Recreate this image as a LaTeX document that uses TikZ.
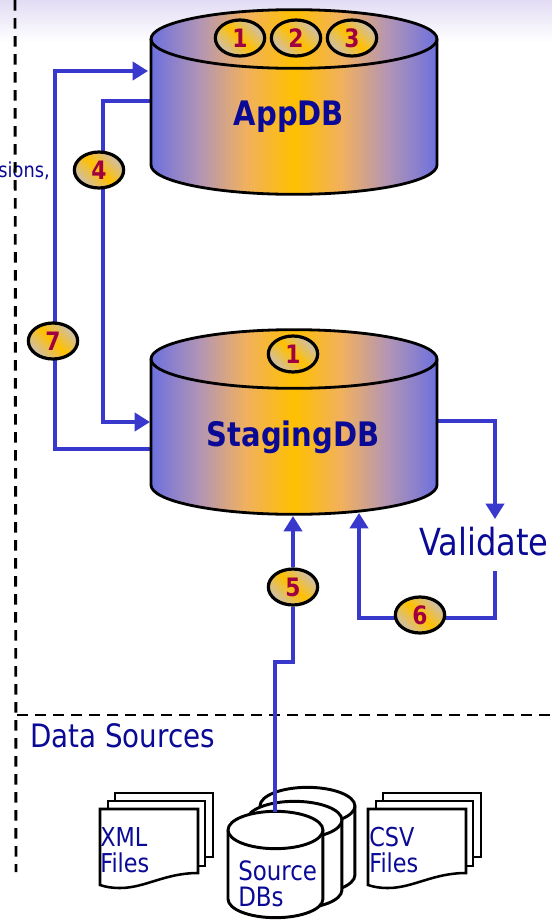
\documentclass[tikz,border=0pt]{standalone}
\usepackage{fontspec}
\setmainfont[FakeStretch=0.86]{DejaVu Sans}
\usetikzlibrary{arrows.meta,shapes.geometric}
\definecolor{inkblue}{HTML}{0A0A96}
\definecolor{flowblue}{HTML}{3838CC}
\definecolor{cylblue}{HTML}{6C70DE}
\definecolor{cylorange}{HTML}{FFC000}
\definecolor{cylmauve}{HTML}{B295B5}
\definecolor{cylpeach}{HTML}{F0B060}
\definecolor{badgegrey}{HTML}{CDBFB0}
\definecolor{numred}{HTML}{A00040}
\definecolor{lav}{HTML}{E2DCF4}
\pgfdeclarehorizontalshading{cylgrad}{100bp}{
  color(0bp)=(cylblue);
  color(25bp)=(cylblue);
  color(33.5bp)=(cylmauve);
  color(41.5bp)=(cylpeach);
  color(50bp)=(cylorange);
  color(58.5bp)=(cylpeach);
  color(66.5bp)=(cylmauve);
  color(75bp)=(cylblue);
  color(100bp)=(cylblue)}
\pgfdeclarelayer{back}
\pgfdeclarelayer{conn}
\pgfsetlayers{back,conn,main}
\tikzset{
  cylshade/.style={shading=cylgrad},
  cylline/.style={draw=black,line width=2.1pt},
  badge/.style={ellipse,draw=black,line width=2.4pt,minimum width=37pt,minimum height=27pt,inner sep=0pt,
    left color=badgegrey,right color=badgegrey,middle color=cylorange,shading angle=-45,
    text=numred,font=\fontsize{19}{19}\selectfont\bfseries},
  flow/.style={draw=flowblue,line width=3pt},
  flowarrow/.style={flow,-{Triangle[length=11.5pt,width=13.5pt]}},
  divider/.style={draw=black,line width=2.2pt,dash pattern=on 8pt off 5.5pt},
  dblabel/.style={text=inkblue,font=\fontsize{25.3}{25.3}\selectfont\bfseries,inner sep=0pt},
  lbl/.style={text=inkblue,inner sep=0pt},
  small/.style={lbl,align=left},
  sheet/.style={draw=black,line width=1.9pt,fill=white},
  srcdb/.style={draw=black,line width=2.2pt,fill=white}
}
\newcommand{\bigcyl}[2]{%
  \shade[cylshade] (#1,#2) -- (#1,#2+126) arc[start angle=180,end angle=360,x radius=107.25pt,y radius=22pt]
     -- (#1+286,#2) arc[start angle=0,end angle=180,x radius=107.25pt,y radius=22pt] -- cycle;
  \draw[cylline] (#1,#2) -- (#1,#2+126) arc[start angle=180,end angle=360,x radius=107.25pt,y radius=22pt]
     -- (#1+286,#2) arc[start angle=0,end angle=180,x radius=107.25pt,y radius=22pt] -- cycle;
  \draw[cylline] (#1,#2) arc[start angle=180,end angle=360,x radius=107.25pt,y radius=22pt];
}
\newcommand{\smallcyl}[4]{%
  \draw[srcdb] (#1,#3) -- (#1,#3+#4) arc[start angle=180,end angle=360,x radius=#2pt,y radius=14pt]
     -- ++(0,-#4) arc[start angle=0,end angle=180,x radius=#2pt,y radius=14pt] -- cycle;
  \draw[srcdb] (#1,#3) arc[start angle=180,end angle=360,x radius=#2pt,y radius=14pt];
}
\newcommand{\filestack}[1]{%
  \begin{scope}[shift={(#1,0)}]
    \draw[sheet] (15,793) rectangle (113,857);
    \draw[sheet] (8,801) rectangle (105,866);
    \draw[sheet] (0,809) -- (98,809) -- (98,873) .. controls (65,873) and (45,888) .. (20,888) .. controls (12,888) and (6,887) .. (0,885) -- cycle;
  \end{scope}
}
\begin{document}
\begin{tikzpicture}[x=.75pt,y=-.75pt]
\useasboundingbox (0,0) rectangle (552,921);
\clip (0,0) rectangle (552,921);
\begin{pgfonlayer}{back}
\fill[white] (0,0) rectangle (552,921);
\shade[top color=lav,bottom color=white] (0,0) rectangle (552,42);
\end{pgfonlayer}

% cylinders
\bigcyl{151}{39}
\bigcyl{151}{359}
\node[dblabel] (appdb) at (289,117) {AppDB};
\node[dblabel] (stagingdb) at (293,437) {StagingDB};

% badges
\node[badge] (a1) at (240,38) {1};
\node[badge] (a2) at (296,38) {2};
\node[badge] (a3) at (352,38) {3};
\node[badge] (s1) at (293,354) {1};
\node[badge] (b4) at (99,170) {4};
\node[badge] (b7) at (53,341) {7};
\node[badge] (b5) at (293,587) {5};
\node[badge] (b6) at (420,615) {6};

% text
\node[lbl,anchor=base,font=\fontsize{28}{28}\selectfont] (validate) at (484,555) {Validate};
\node[lbl,anchor=base west,font=\fontsize{24.2}{24.2}\selectfont] (datasrc) at (30,747) {Data Sources};
\node[lbl,anchor=base east,font=\fontsize{15.5}{15.5}\selectfont] (sions) at (50,177) {sions,};

% dividers
\draw[divider] (15,0) -- (16,872);
\draw[divider] (17,715) -- (552,715);

% files and source databases
\filestack{100}
\filestack{368}
\smallcyl{260}{35.6}{806}{69}
\smallcyl{247}{35.6}{820}{70}
\smallcyl{228}{35.6}{830}{69}
\node[small,anchor=base west,text width=60pt,font=\fontsize{19.5}{19.5}\selectfont] (xml) at (100,846) {XML\\Files};
\node[small,anchor=base west,text width=60pt,font=\fontsize{19.5}{19.5}\selectfont] (csv) at (369,846) {CSV\\Files};
\node[small,anchor=base west,text width=70pt,font=\fontsize{20}{19.5}\selectfont] (source) at (238,880) {Source\\DBs};

% connector ports and corners
\coordinate (appIn) at (148,71);
\coordinate (appOut) at (151,101);
\coordinate (stagIn) at (150,422);
\coordinate (stagOut) at (151,449);
\coordinate (stagRight) at (437,421);
\coordinate (stagBot) at (293,516);
\coordinate (stagBotR) at (359,513);
\coordinate (valTop) at (495,519);
\coordinate (valBot) at (495,571);
\coordinate (srcTop) at (275,812);
\coordinate (rail7) at (55,0);
\coordinate (rail4) at (103,0);
\coordinate (jogY) at (0,662);
\coordinate (loopY) at (0,618);

\begin{pgfonlayer}{conn}
  \draw[flowarrow] (stagOut) -- (stagOut -| rail7) -- (appIn -| rail7) -- (appIn);
  \draw[flowarrow] (appOut) -- (appOut -| rail4) -- (stagIn -| rail4) -- (stagIn);
  \draw[flowarrow] (stagRight) -| (valTop);
  \draw[flowarrow] (valBot) -- (valBot |- loopY) -- (stagBotR |- loopY) -- (stagBotR);
  \draw[flowarrow] (b5) -- (stagBot);
\end{pgfonlayer}
\draw[flow] (srcTop) -- (srcTop |- jogY) -- (stagBot |- jogY) -- (b5);
\end{tikzpicture}
\end{document}
